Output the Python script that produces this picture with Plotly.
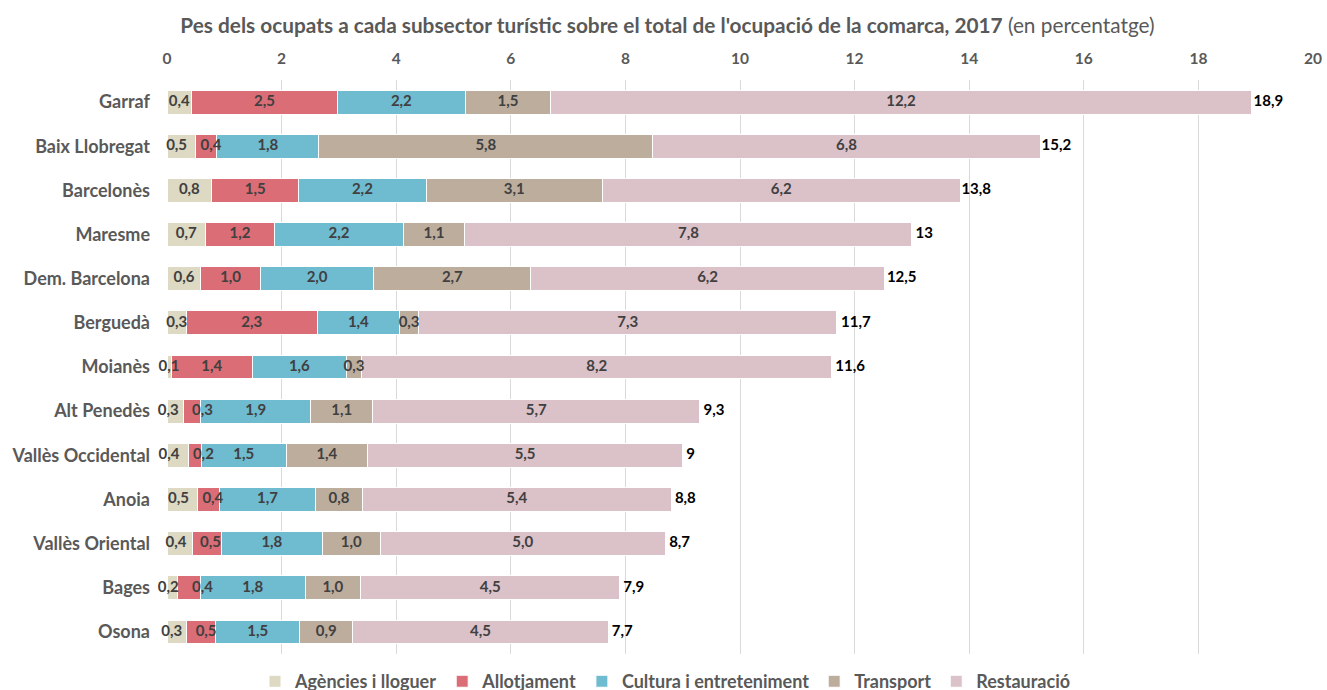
import numpy as np
import plotly.graph_objects as go

comarques = ["Garraf", "Baix Llobregat", "Barcelonès", "Maresme", "Dem. Barcelona",
             "Berguedà", "Moianès", "Alt Penedès", "Vallès Occidental", "Anoia",
             "Vallès Oriental", "Bages", "Osona"]

agencies = [0.43, 0.50, 0.78, 0.67, 0.59, 0.34, 0.07, 0.29, 0.37, 0.54, 0.44, 0.19, 0.34]
allotjament = [2.54, 0.37, 1.52, 1.21, 1.04, 2.28, 1.42, 0.30, 0.23, 0.38, 0.51, 0.39, 0.51]
cultura = [2.24, 1.78, 2.22, 2.24, 1.98, 1.44, 1.64, 1.92, 1.48, 1.67, 1.76, 1.83, 1.47]
transport = [1.48, 5.83, 3.08, 1.08, 2.74, 0.33, 0.27, 1.08, 1.42, 0.82, 1.01, 0.97, 0.92]
restauracio = [12.24, 6.76, 6.24, 7.80, 6.17, 7.30, 8.20, 5.71, 5.50, 5.39, 4.98, 4.52, 4.46]
totals = [18.9, 15.2, 13.8, 13, 12.5, 11.7, 11.6, 9.3, 9, 8.8, 8.7, 7.9, 7.7]

series = [
    ("Agències i lloguer", agencies, "#DDD9C3"),
    ("Allotjament", allotjament, "#DA6D76"),
    ("Cultura i entreteniment", cultura, "#6FBBD0"),
    ("Transport", transport, "#BDAD9D"),
    ("Restauració", restauracio, "#DBC1C8"),
]

FONT = "Lato"
MIN_LABEL_GAP = 0.6  # minimum distance between neighbouring label centres (axis units)
MIN_LABEL_X = 0.02   # keep labels inside the visible axis range

fig = go.Figure()
for name, vals, col in series:
    fig.add_trace(go.Bar(
        y=comarques, x=vals, name=name, orientation="h",
        marker=dict(color=col, line=dict(color="white", width=1)),
        hoverinfo="skip",
    ))

# label centres = segment midpoints, then nudged apart where they would collide
V = np.array([s[1] for s in series], dtype=float)        # (series, rows)
ends = np.cumsum(V, axis=0)
centres = ends - V / 2
for r in range(V.shape[1]):
    c = centres[:, r]
    for _ in range(10):
        for i in range(len(c) - 1):
            d = c[i + 1] - c[i]
            if d < MIN_LABEL_GAP:
                s = (MIN_LABEL_GAP - d) / 2
                c[i] -= s
                c[i + 1] += s
    c[0] = max(c[0], MIN_LABEL_X)
    for i in range(len(c) - 1):
        if c[i + 1] - c[i] < MIN_LABEL_GAP:
            c[i + 1] = c[i] + MIN_LABEL_GAP
    centres[:, r] = c

for k, (name, vals, col) in enumerate(series):
    fig.add_trace(go.Scatter(
        y=comarques, x=centres[k], mode="text",
        customdata=np.array(vals), texttemplate="%{customdata:.1f}",
        textposition="middle center",
        textfont=dict(family=FONT, size=15, color="#404040", weight="bold"),
        showlegend=False, hoverinfo="skip", cliponaxis=False,
    ))

fig.add_trace(go.Scatter(
    y=comarques, x=totals, mode="text",
    text=[" " + f"{v:g}".replace(".", ",") for v in totals],
    textposition="middle right",
    textfont=dict(family=FONT, size=15, color="black", weight="bold"),
    showlegend=False, hoverinfo="skip", cliponaxis=False,
))

fig.update_layout(
    barmode="stack",
    bargap=0.46,
    separators=",.",
    width=1327, height=690,
    margin=dict(l=167, r=14, t=80, b=36, autoexpand=False),
    plot_bgcolor="white", paper_bgcolor="white",
    font=dict(family=FONT, color="#595959"),
    title=dict(
        text="<b>Pes dels ocupats a cada subsector turístic sobre el total de l'ocupació de la comarca, 2017</b> (en percentatge)",
        x=0.503, xanchor="center", y=0.963, yanchor="middle",
        font=dict(family=FONT, size=20.8, color="#595959"),
    ),
    xaxis=dict(
        side="top", range=[0, 20], dtick=2, showgrid=True, gridcolor="#D9D9D9",
        gridwidth=1, zeroline=False, showline=False, ticks="",
        tickfont=dict(family=FONT, size=15.5, color="#595959", weight="bold"),
        ticklabelstandoff=12,
    ),
    yaxis=dict(
        range=[len(comarques) - 0.5, -0.5], showgrid=False, zeroline=False,
        showline=False, ticks="",
        tickfont=dict(family=FONT, size=18, color="#595959", weight="bold"),
        ticklabelstandoff=16,
    ),
    legend=dict(
        orientation="h",
        x=0.435, xanchor="center", y=-0.048, yanchor="middle",
        font=dict(family=FONT, size=18, color="#595959", weight="bold"),
        itemwidth=30, traceorder="normal",
    ),
    showlegend=True,
)

fig.write_html("out.html")
